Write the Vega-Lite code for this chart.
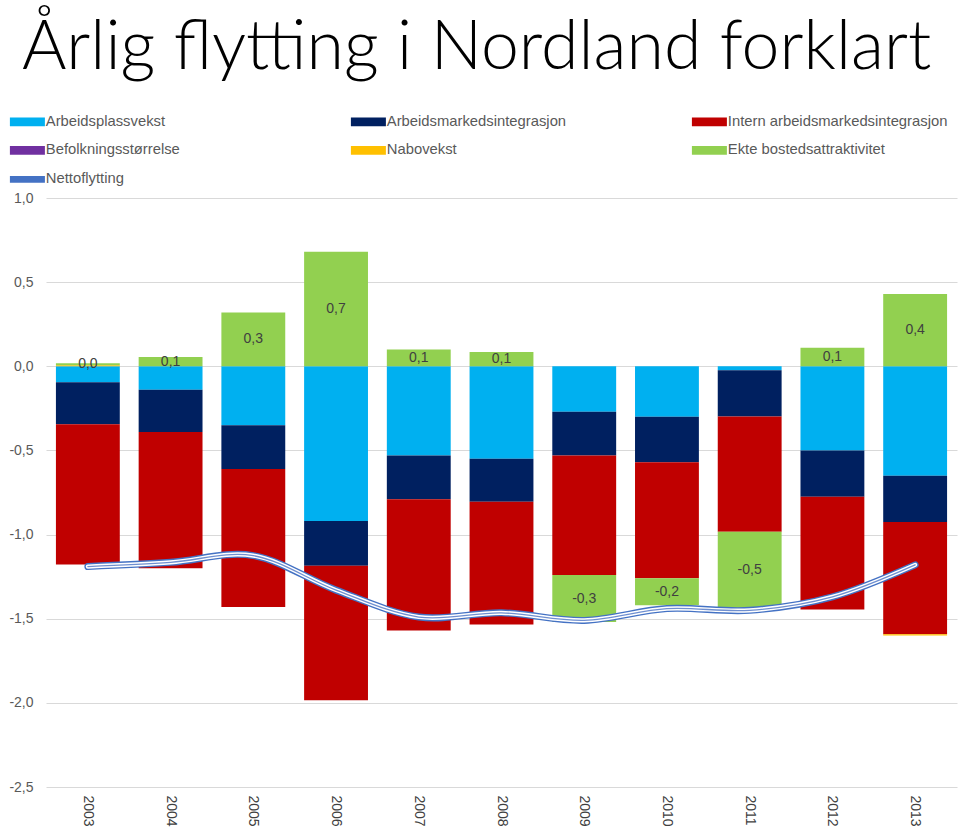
{
  "$schema": "https://vega.github.io/schema/vega-lite/v6.json",
  "width": 911,
  "height": 589,
  "autosize": {"type": "none"},
  "padding": {"left": 46, "top": 198, "right": 3, "bottom": 42},
  "background": "white",
  "title": {
    "text": "Årlig flytting i Nordland forklart",
    "anchor": "start",
    "frame": "group",
    "font": "Lato",
    "fontWeight": 300,
    "fontSize": 68,
    "color": "#000000",
    "dx": -24,
    "offset": 31
  },
  "config": {
    "locale": {"number": {"decimal": ",", "thousands": " ", "grouping": [3], "currency": ["", " kr"], "minus": "-"}},
    "view": {"stroke": null},
    "font": "Liberation Sans"
  },
  "datasets": {
    "komponenter": [
      {"aar": "2003", "kat": "Arbeidsplassvekst", "verdi": -0.095},
      {"aar": "2004", "kat": "Arbeidsplassvekst", "verdi": -0.14},
      {"aar": "2005", "kat": "Arbeidsplassvekst", "verdi": -0.35},
      {"aar": "2006", "kat": "Arbeidsplassvekst", "verdi": -0.92},
      {"aar": "2007", "kat": "Arbeidsplassvekst", "verdi": -0.53},
      {"aar": "2008", "kat": "Arbeidsplassvekst", "verdi": -0.55},
      {"aar": "2009", "kat": "Arbeidsplassvekst", "verdi": -0.27},
      {"aar": "2010", "kat": "Arbeidsplassvekst", "verdi": -0.30},
      {"aar": "2011", "kat": "Arbeidsplassvekst", "verdi": -0.024},
      {"aar": "2012", "kat": "Arbeidsplassvekst", "verdi": -0.50},
      {"aar": "2013", "kat": "Arbeidsplassvekst", "verdi": -0.65},
      {"aar": "2003", "kat": "Arbeidsmarkedsintegrasjon", "verdi": -0.25},
      {"aar": "2004", "kat": "Arbeidsmarkedsintegrasjon", "verdi": -0.25},
      {"aar": "2005", "kat": "Arbeidsmarkedsintegrasjon", "verdi": -0.26},
      {"aar": "2006", "kat": "Arbeidsmarkedsintegrasjon", "verdi": -0.265},
      {"aar": "2007", "kat": "Arbeidsmarkedsintegrasjon", "verdi": -0.26},
      {"aar": "2008", "kat": "Arbeidsmarkedsintegrasjon", "verdi": -0.255},
      {"aar": "2009", "kat": "Arbeidsmarkedsintegrasjon", "verdi": -0.26},
      {"aar": "2010", "kat": "Arbeidsmarkedsintegrasjon", "verdi": -0.27},
      {"aar": "2011", "kat": "Arbeidsmarkedsintegrasjon", "verdi": -0.274},
      {"aar": "2012", "kat": "Arbeidsmarkedsintegrasjon", "verdi": -0.275},
      {"aar": "2013", "kat": "Arbeidsmarkedsintegrasjon", "verdi": -0.275},
      {"aar": "2003", "kat": "Intern arbeidsmarkedsintegrasjon", "verdi": -0.833},
      {"aar": "2004", "kat": "Intern arbeidsmarkedsintegrasjon", "verdi": -0.81},
      {"aar": "2005", "kat": "Intern arbeidsmarkedsintegrasjon", "verdi": -0.82},
      {"aar": "2006", "kat": "Intern arbeidsmarkedsintegrasjon", "verdi": -0.80},
      {"aar": "2007", "kat": "Intern arbeidsmarkedsintegrasjon", "verdi": -0.78},
      {"aar": "2008", "kat": "Intern arbeidsmarkedsintegrasjon", "verdi": -0.73},
      {"aar": "2009", "kat": "Intern arbeidsmarkedsintegrasjon", "verdi": -0.71},
      {"aar": "2010", "kat": "Intern arbeidsmarkedsintegrasjon", "verdi": -0.69},
      {"aar": "2011", "kat": "Intern arbeidsmarkedsintegrasjon", "verdi": -0.685},
      {"aar": "2012", "kat": "Intern arbeidsmarkedsintegrasjon", "verdi": -0.67},
      {"aar": "2013", "kat": "Intern arbeidsmarkedsintegrasjon", "verdi": -0.667},
      {"aar": "2003", "kat": "Nabovekst", "verdi": 0.006},
      {"aar": "2013", "kat": "Nabovekst", "verdi": -0.008},
      {"aar": "2003", "kat": "Ekte bostedsattraktivitet", "verdi": 0.012},
      {"aar": "2004", "kat": "Ekte bostedsattraktivitet", "verdi": 0.055},
      {"aar": "2005", "kat": "Ekte bostedsattraktivitet", "verdi": 0.32},
      {"aar": "2006", "kat": "Ekte bostedsattraktivitet", "verdi": 0.68},
      {"aar": "2007", "kat": "Ekte bostedsattraktivitet", "verdi": 0.10},
      {"aar": "2008", "kat": "Ekte bostedsattraktivitet", "verdi": 0.085},
      {"aar": "2009", "kat": "Ekte bostedsattraktivitet", "verdi": -0.28},
      {"aar": "2010", "kat": "Ekte bostedsattraktivitet", "verdi": -0.16},
      {"aar": "2011", "kat": "Ekte bostedsattraktivitet", "verdi": -0.46},
      {"aar": "2012", "kat": "Ekte bostedsattraktivitet", "verdi": 0.11},
      {"aar": "2013", "kat": "Ekte bostedsattraktivitet", "verdi": 0.43}
    ],
    "netto": [
      {"aar": "2003", "verdi": -1.19},
      {"aar": "2004", "verdi": -1.165},
      {"aar": "2005", "verdi": -1.125},
      {"aar": "2006", "verdi": -1.33},
      {"aar": "2007", "verdi": -1.49},
      {"aar": "2008", "verdi": -1.465},
      {"aar": "2009", "verdi": -1.51},
      {"aar": "2010", "verdi": -1.44},
      {"aar": "2011", "verdi": -1.45},
      {"aar": "2012", "verdi": -1.37},
      {"aar": "2013", "verdi": -1.18}
    ]
  },
  "encoding": {
    "x": {
      "field": "aar",
      "type": "ordinal",
      "scale": {"paddingInner": 0.228, "paddingOuter": 0.12},
      "axis": {
        "title": null,
        "orient": "bottom",
        "labelAngle": 90,
        "labelFontSize": 14,
        "labelColor": "#404040",
        "labelPadding": 8,
        "ticks": false,
        "domain": false,
        "grid": false
      }
    }
  },
  "layer": [
    {
      "data": {"name": "komponenter"},
      "transform": [
        {"calculate": "indexof(['Arbeidsplassvekst','Arbeidsmarkedsintegrasjon','Intern arbeidsmarkedsintegrasjon','Befolkningsstørrelse','Nabovekst','Ekte bostedsattraktivitet'], datum.kat)", "as": "nr"}
      ],
      "layer": [
        {
          "mark": {"type": "bar"},
          "encoding": {
            "y": {
              "field": "verdi",
              "type": "quantitative",
              "stack": "zero",
              "scale": {"domain": [-2.5, 1], "nice": false, "zero": false},
              "axis": {
                "title": null,
                "values": [-2.5, -2, -1.5, -1, -0.5, 0, 0.5, 1],
                "format": ".1f",
                "labelFontSize": 14,
                "labelColor": "#595959",
                "labelPadding": 13,
                "ticks": false,
                "domain": false,
                "gridColor": "#D9D9D9",
                "gridWidth": 1
              }
            },
            "color": {
              "field": "kat",
              "type": "nominal",
              "scale": {
                "domain": ["Arbeidsplassvekst", "Arbeidsmarkedsintegrasjon", "Intern arbeidsmarkedsintegrasjon", "Befolkningsstørrelse", "Nabovekst", "Ekte bostedsattraktivitet", "Nettoflytting"],
                "range": ["#00B0F0", "#002060", "#C00000", "#7030A0", "#FFC000", "#92D050", "#4472C4"]
              },
              "legend": {
                "title": null,
                "orient": "none",
                "legendX": -26,
                "legendY": -84,
                "direction": "horizontal",
                "columns": 3,
                "gridAlign": "all",
                "columnPadding": 84,
                "rowPadding": 13,
                "padding": 0,
                "labelFont": "Liberation Sans",
                "labelFontSize": 14.8,
                "labelColor": "#595959",
                "labelOffset": 11,
                "labelLimit": 400,
                "symbolSize": 1225,
                "symbolType": "M-1,-0.25H1V0.25H-1Z",
                "encode": {
                  "symbols": {
                    "update": {
                      "shape": {"signal": "datum.value === 'Nettoflytting' ? 'M-0.96,-0.15H0.96V0.15H-0.96Z' : 'M-1,-0.25H1V0.25H-1Z'"},
                      "size": {"value": 1225},
                      "fill": {"signal": "datum.value === 'Nettoflytting' ? '#E4EBF7' : scale('color', datum.value)"},
                      "stroke": {"signal": "datum.value === 'Nettoflytting' ? '#4472C4' : 'transparent'"},
                      "strokeWidth": {"signal": "datum.value === 'Nettoflytting' ? 1.4 : 0"},
                      "opacity": {"value": 1},
                      "fillOpacity": {"value": 1}
                    }
                  }
                }
              }
            },
            "order": {"field": "nr", "type": "quantitative"}
          }
        },
        {
          "mark": {"type": "text", "font": "Liberation Sans", "fontSize": 14, "color": "#404040", "baseline": "middle"},
          "encoding": {
            "y": {"field": "verdi", "type": "quantitative", "stack": "zero", "bandPosition": 0.5},
            "detail": {"field": "kat"},
            "order": {"field": "nr", "type": "quantitative"},
            "text": {
              "condition": {"test": "datum.kat === 'Ekte bostedsattraktivitet'", "field": "verdi", "format": ".1f"},
              "value": ""
            }
          }
        }
      ]
    },
    {
      "data": {"name": "netto"},
      "layer": [
        {
          "mark": {"type": "line", "interpolate": "cardinal", "strokeWidth": 7, "strokeCap": "round"},
          "encoding": {
            "y": {"field": "verdi", "type": "quantitative"},
            "color": {"datum": "Nettoflytting"}
          }
        },
        {
          "mark": {"type": "line", "interpolate": "cardinal", "strokeWidth": 4.2, "strokeCap": "round", "color": "#FFFFFF"},
          "encoding": {
            "y": {"field": "verdi", "type": "quantitative"}
          }
        },
        {
          "mark": {"type": "line", "interpolate": "cardinal", "strokeWidth": 1.3, "strokeCap": "round", "color": "#6F8FD0"},
          "encoding": {
            "y": {"field": "verdi", "type": "quantitative"}
          }
        }
      ]
    }
  ]
}
